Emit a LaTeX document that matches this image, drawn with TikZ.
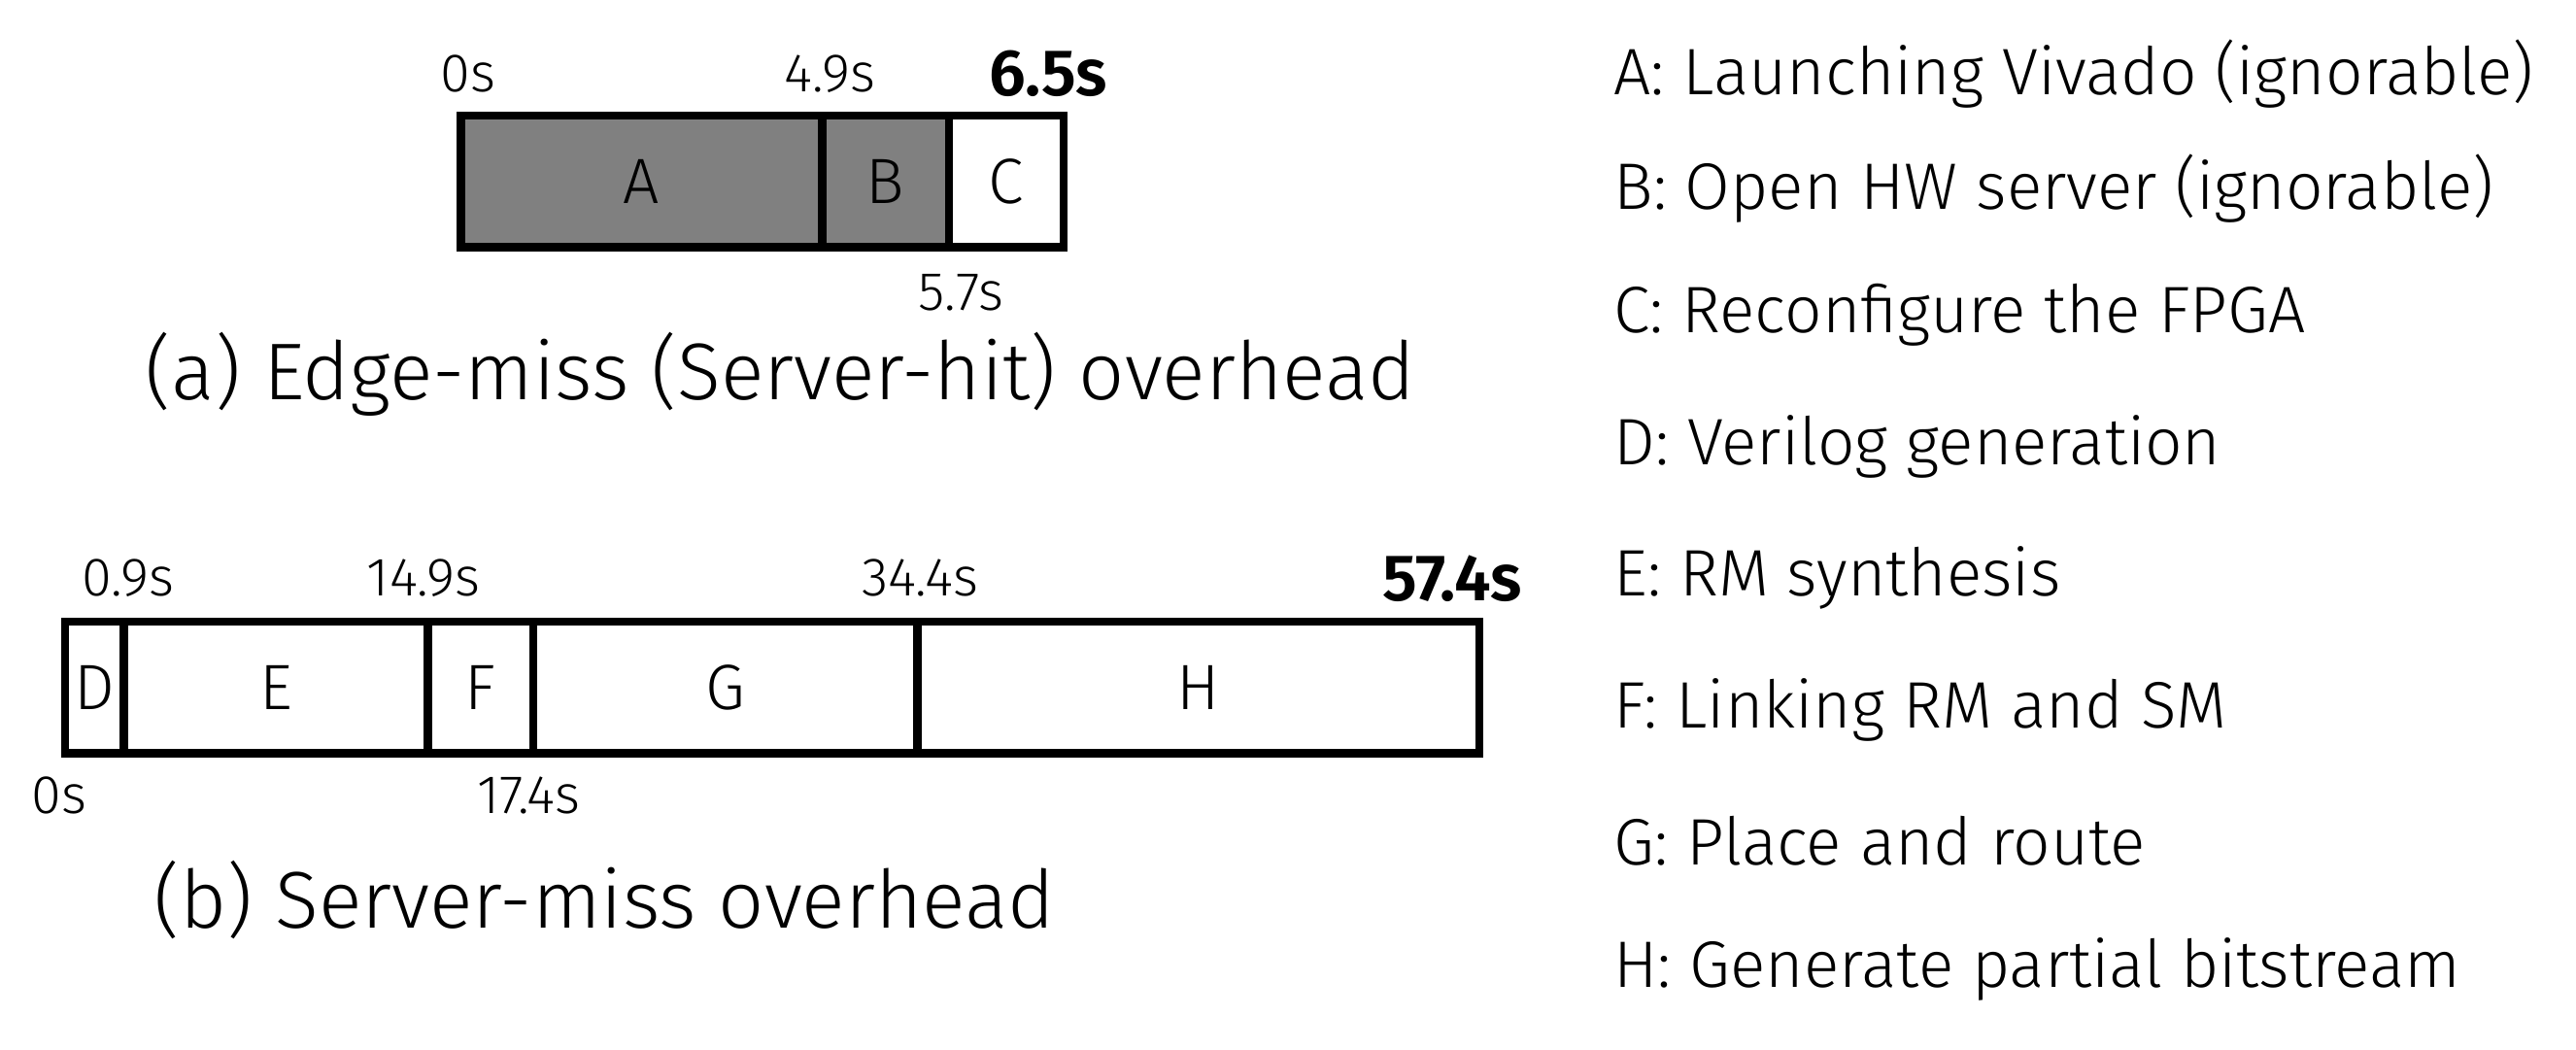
\documentclass[tikz,border=0pt]{standalone}
\usepackage{fontspec}
\setmainfont{Fira Sans Light}[BoldFont={Fira Sans SemiBold}]
\begin{document}
\begin{tikzpicture}[x=0.5pt,y=-0.5pt,
 blk/.style={draw=black,line width=2.5pt,inner sep=0pt,minimum height=40pt,font=\fontsize{19.5}{21}\selectfont},
 lbl/.style={font=\fontsize{16.5}{18}\selectfont,inner sep=0pt},
 bl/.style={font=\fontsize{20}{22}\selectfont\bfseries,inner sep=0pt},
 captxt/.style={font=\fontsize{24.5}{27}\selectfont,inner sep=0pt},
 leg/.style={font=\fontsize{20}{23}\selectfont,inner sep=0pt,anchor=west}]
\useasboundingbox (0,0) rectangle (1568,639);
% top bar
\node[blk,fill=gray,minimum width=110pt,anchor=north west] (A) at (278,68) {A};
\node[blk,fill=gray,minimum width=38.5pt,anchor=north west] (B) at (498,68) {B};
\node[blk,fill=white,minimum width=35pt,anchor=north west] (C) at (575,68) {C};
\node[lbl] (t0) at (285,45) {0s};
\node[lbl] (t49) at (505,45) {4.9s};
\node[bl] (t65) at (638,45) {6.5s};
\node[lbl] (t57) at (585,178) {5.7s};
\node[captxt] (ca) at (475,228) {(a) Edge-miss (Server-hit) overhead};
% bottom bar
\node[blk,minimum width=18pt,anchor=north west] (D) at (37,376) {D};
\node[blk,minimum width=92.5pt,anchor=north west] (E) at (73,376) {E};
\node[blk,minimum width=32pt,anchor=north west] (F) at (258,376) {F};
\node[blk,minimum width=117pt,anchor=north west] (G) at (322,376) {G};
\node[blk,minimum width=171pt,anchor=north west] (H) at (556,376) {H};
\node[lbl] (b09) at (78,352) {0.9s};
\node[lbl] (b149) at (258,352) {14.9s};
\node[lbl] (b344) at (560,352) {34.4s};
\node[bl] (b574) at (884,352) {57.4s};
\node[lbl] (b0) at (36,484) {0s};
\node[lbl] (b174) at (322,484) {17.4s};
\node[captxt] (cb) at (368,548) {(b) Server-miss overhead};
% legend
\node[leg] (la) at (982,45) {A: Launching Vivado (ignorable)};
\node[leg] (lb) at (982,115) {B: Open HW server (ignorable)};
\node[leg] (lc) at (982,192) {C: Reconfigure the FPGA};
\node[leg] (ld) at (982,272) {D: Verilog generation};
\node[leg] (le) at (982,352) {E: RM synthesis};
\node[leg] (lf) at (982,432) {F: Linking RM and SM};
\node[leg] (lg) at (982,512) {G: Place and route};
\node[leg] (lh) at (982,590) {H: Generate partial bitstream};
\end{tikzpicture}
\end{document}
